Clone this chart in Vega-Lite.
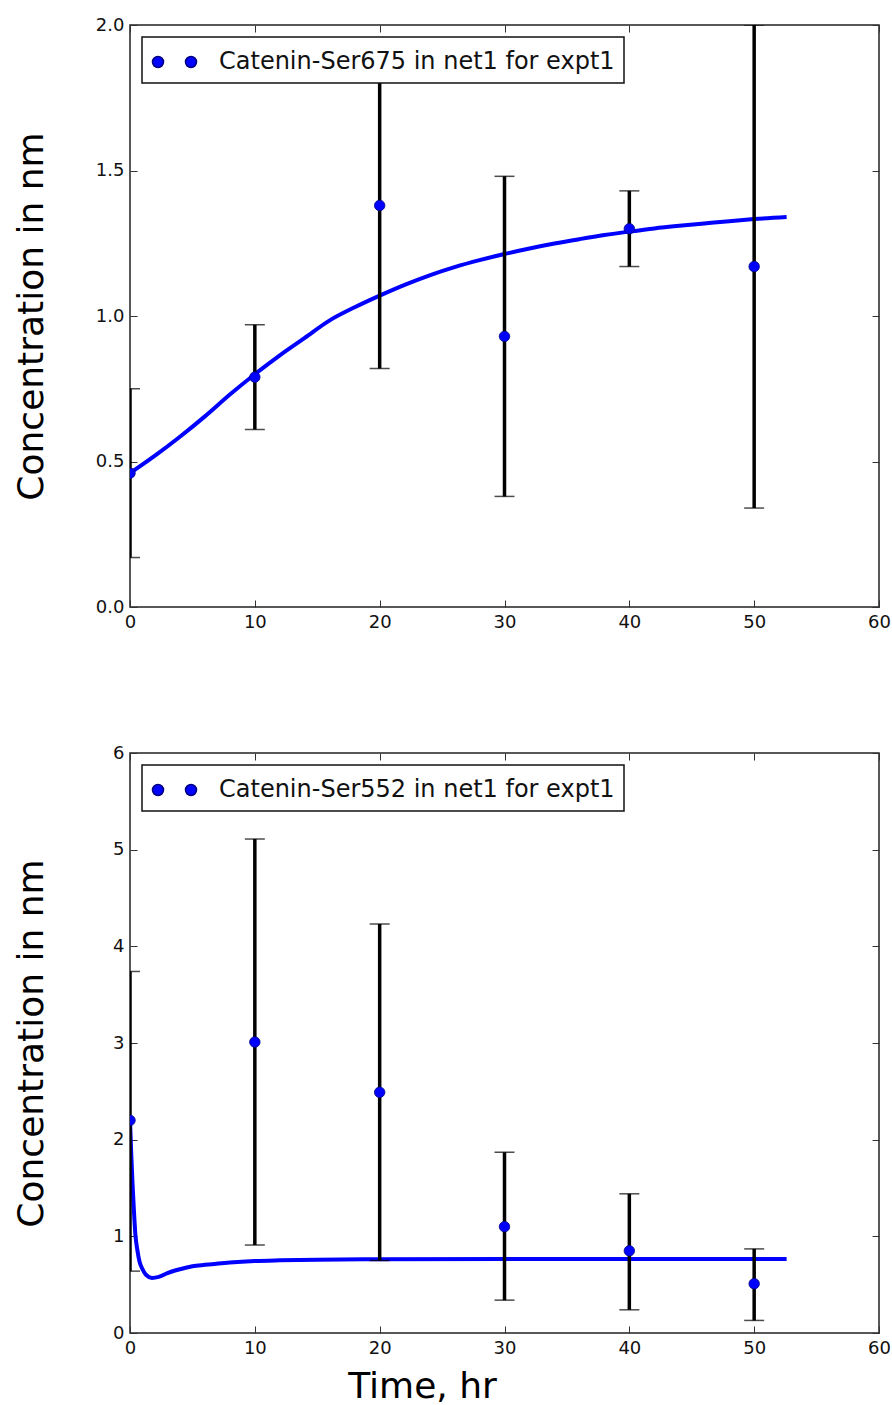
{
  "$schema": "https://vega.github.io/schema/vega-lite/v6.json",
  "background": "white",
  "padding": {"left": 12, "top": 15, "right": 10, "bottom": 5},
  "spacing": 111,
  "config": {
    "font": "DejaVu Sans",
    "view": {"stroke": "#222222", "strokeWidth": 1.5},
    "axis": {
      "domain": false,
      "grid": false,
      "ticks": true,
      "tickSize": -7,
      "tickColor": "#333333",
      "tickWidth": 1,
      "labelFlush": false,
      "labelOverlap": false,
      "labelFont": "DejaVu Sans",
      "labelFontSize": 18,
      "labelColor": "#111111",
      "labelPadding": 13,
      "titleFont": "DejaVu Sans",
      "titleFontSize": 36,
      "titleFontWeight": "normal",
      "titleColor": "#000000"
    },
    "legend": {
      "orient": "top-left",
      "offset": 12,
      "fillColor": "white",
      "strokeColor": "#111111",
      "strokeWidth": 1.5,
      "padding": 9,
      "labelFont": "DejaVu Sans",
      "labelFontSize": 24,
      "labelColor": "#111111",
      "labelOffset": 36,
      "labelLimit": 0,
      "title": null
    }
  },
  "datasets": {
    "obs1": [
      {"t": 0, "y": 0.46, "lo": 0.17, "hi": 0.75, "series": "Catenin-Ser675 in net1 for expt1"},
      {"t": 10, "y": 0.79, "lo": 0.61, "hi": 0.97, "series": "Catenin-Ser675 in net1 for expt1"},
      {"t": 20, "y": 1.38, "lo": 0.82, "hi": 1.94, "series": "Catenin-Ser675 in net1 for expt1"},
      {"t": 30, "y": 0.93, "lo": 0.38, "hi": 1.48, "series": "Catenin-Ser675 in net1 for expt1"},
      {"t": 40, "y": 1.30, "lo": 1.17, "hi": 1.43, "series": "Catenin-Ser675 in net1 for expt1"},
      {"t": 50, "y": 1.17, "lo": 0.34, "hi": 2.0, "series": "Catenin-Ser675 in net1 for expt1"}
    ],
    "fit1": [
      {"t": 0, "y": 0.46}, {"t": 2, "y": 0.52}, {"t": 4, "y": 0.585}, {"t": 6, "y": 0.655},
      {"t": 8, "y": 0.73}, {"t": 10, "y": 0.80}, {"t": 12, "y": 0.865}, {"t": 14, "y": 0.925},
      {"t": 16, "y": 0.985}, {"t": 18, "y": 1.03}, {"t": 20, "y": 1.07}, {"t": 22, "y": 1.107},
      {"t": 24, "y": 1.14}, {"t": 26, "y": 1.168}, {"t": 28, "y": 1.192}, {"t": 30, "y": 1.213},
      {"t": 32, "y": 1.232}, {"t": 34, "y": 1.249}, {"t": 36, "y": 1.264}, {"t": 38, "y": 1.278},
      {"t": 40, "y": 1.29}, {"t": 42, "y": 1.301}, {"t": 44, "y": 1.31}, {"t": 46, "y": 1.318},
      {"t": 48, "y": 1.326}, {"t": 50, "y": 1.333}, {"t": 52.6, "y": 1.34}
    ],
    "obs2": [
      {"t": 0, "y": 2.2, "lo": 0.64, "hi": 3.74, "series": "Catenin-Ser552 in net1 for expt1"},
      {"t": 10, "y": 3.01, "lo": 0.91, "hi": 5.11, "series": "Catenin-Ser552 in net1 for expt1"},
      {"t": 20, "y": 2.49, "lo": 0.75, "hi": 4.23, "series": "Catenin-Ser552 in net1 for expt1"},
      {"t": 30, "y": 1.1, "lo": 0.34, "hi": 1.87, "series": "Catenin-Ser552 in net1 for expt1"},
      {"t": 40, "y": 0.85, "lo": 0.24, "hi": 1.44, "series": "Catenin-Ser552 in net1 for expt1"},
      {"t": 50, "y": 0.51, "lo": 0.13, "hi": 0.87, "series": "Catenin-Ser552 in net1 for expt1"}
    ],
    "fit2": [
      {"t": 0, "y": 2.2}, {"t": 0.1, "y": 1.85}, {"t": 0.2, "y": 1.55}, {"t": 0.3, "y": 1.3},
      {"t": 0.43, "y": 1.02}, {"t": 0.6, "y": 0.85}, {"t": 0.75, "y": 0.745}, {"t": 1.0, "y": 0.66},
      {"t": 1.3, "y": 0.6}, {"t": 1.76, "y": 0.57}, {"t": 2.3, "y": 0.58}, {"t": 3, "y": 0.62},
      {"t": 4, "y": 0.66}, {"t": 5, "y": 0.69}, {"t": 6, "y": 0.705}, {"t": 8, "y": 0.73},
      {"t": 10, "y": 0.745}, {"t": 12, "y": 0.752}, {"t": 15, "y": 0.758}, {"t": 20, "y": 0.763},
      {"t": 30, "y": 0.765}, {"t": 40, "y": 0.765}, {"t": 52.6, "y": 0.765}
    ]
  },
  "vconcat": [
    {
      "width": 749,
      "height": 582,
      "resolve": {"axis": {"x": "independent", "y": "independent"}},
      "layer": [
        {
          "data": {"name": "fit1"},
          "mark": {"type": "line", "color": "#0000ff", "strokeWidth": 4, "clip": true, "interpolate": "monotone"},
          "encoding": {
            "x": {"field": "t", "type": "quantitative", "scale": {"domain": [0, 60], "nice": false},
              "axis": {"orient": "bottom", "values": [0, 10, 20, 30, 40, 50, 60], "title": null}},
            "y": {"field": "y", "type": "quantitative", "scale": {"domain": [0, 2], "nice": false, "zero": false},
              "axis": {"orient": "left", "values": [0, 0.5, 1, 1.5, 2], "format": ".1f", "title": "Concentration in nm", "titlePadding": 45}}
          }
        },
        {
          "data": {"name": "obs1"},
          "mark": {"type": "rule", "color": "#000000", "strokeWidth": 3.5, "clip": true},
          "encoding": {
            "x": {"field": "t", "type": "quantitative",
              "axis": {"orient": "top", "values": [0, 10, 20, 30, 40, 50, 60], "labels": false, "title": null}},
            "y": {"field": "lo", "type": "quantitative",
              "axis": {"orient": "right", "values": [0, 0.5, 1, 1.5, 2], "labels": false, "title": null}},
            "y2": {"field": "hi"}
          }
        },
        {
          "data": {"name": "obs1"},
          "mark": {"type": "tick", "orient": "horizontal", "color": "#000000", "size": 20, "thickness": 1.5, "clip": true},
          "encoding": {
            "x": {"field": "t", "type": "quantitative", "axis": null},
            "y": {"field": "lo", "type": "quantitative", "axis": null}
          }
        },
        {
          "data": {"name": "obs1"},
          "mark": {"type": "tick", "orient": "horizontal", "color": "#000000", "size": 20, "thickness": 1.5, "clip": true},
          "encoding": {
            "x": {"field": "t", "type": "quantitative", "axis": null},
            "y": {"field": "hi", "type": "quantitative", "axis": null}
          }
        },
        {
          "data": {"name": "obs1"},
          "mark": {"type": "point", "filled": true, "size": 110, "opacity": 1, "stroke": "#000080", "strokeWidth": 0.8, "clip": true},
          "encoding": {
            "x": {"field": "t", "type": "quantitative", "axis": null},
            "y": {"field": "y", "type": "quantitative", "axis": null},
            "color": {"field": "series", "type": "nominal", "scale": {"range": ["#0000ff"]},
              "legend": {
                "symbolType": "M -0.967 0 A 0.367 0.367 0 1 0 -0.233 0 A 0.367 0.367 0 1 0 -0.967 0 Z M 1.233 0 A 0.367 0.367 0 1 0 1.967 0 A 0.367 0.367 0 1 0 1.233 0 Z",
                "symbolSize": 900,
                "encode": {"symbols": {"update": {"size": {"value": 900}, "strokeWidth": {"value": 0}, "fill": {"value": "#0000ff"}, "opacity": {"value": 1}}}}
              }}
          }
        }
      ]
    },
    {
      "width": 749,
      "height": 580,
      "resolve": {"axis": {"x": "independent", "y": "independent"}},
      "layer": [
        {
          "data": {"name": "fit2"},
          "mark": {"type": "line", "color": "#0000ff", "strokeWidth": 4, "clip": true, "interpolate": "monotone"},
          "encoding": {
            "x": {"field": "t", "type": "quantitative", "scale": {"domain": [0, 60], "nice": false},
              "axis": {"orient": "bottom", "values": [0, 10, 20, 30, 40, 50, 60], "title": "Time, hr", "titlePadding": 12, "titleX": 292}},
            "y": {"field": "y", "type": "quantitative", "scale": {"domain": [0, 6], "nice": false, "zero": false},
              "axis": {"orient": "left", "values": [0, 1, 2, 3, 4, 5, 6], "format": "d", "title": "Concentration in nm", "titlePadding": 62}}
          }
        },
        {
          "data": {"name": "obs2"},
          "mark": {"type": "rule", "color": "#000000", "strokeWidth": 3.5, "clip": true},
          "encoding": {
            "x": {"field": "t", "type": "quantitative",
              "axis": {"orient": "top", "values": [0, 10, 20, 30, 40, 50, 60], "labels": false, "title": null}},
            "y": {"field": "lo", "type": "quantitative",
              "axis": {"orient": "right", "values": [0, 1, 2, 3, 4, 5, 6], "labels": false, "title": null}},
            "y2": {"field": "hi"}
          }
        },
        {
          "data": {"name": "obs2"},
          "mark": {"type": "tick", "orient": "horizontal", "color": "#000000", "size": 20, "thickness": 1.5, "clip": true},
          "encoding": {
            "x": {"field": "t", "type": "quantitative", "axis": null},
            "y": {"field": "lo", "type": "quantitative", "axis": null}
          }
        },
        {
          "data": {"name": "obs2"},
          "mark": {"type": "tick", "orient": "horizontal", "color": "#000000", "size": 20, "thickness": 1.5, "clip": true},
          "encoding": {
            "x": {"field": "t", "type": "quantitative", "axis": null},
            "y": {"field": "hi", "type": "quantitative", "axis": null}
          }
        },
        {
          "data": {"name": "obs2"},
          "mark": {"type": "point", "filled": true, "size": 110, "opacity": 1, "stroke": "#000080", "strokeWidth": 0.8, "clip": true},
          "encoding": {
            "x": {"field": "t", "type": "quantitative", "axis": null},
            "y": {"field": "y", "type": "quantitative", "axis": null},
            "color": {"field": "series", "type": "nominal", "scale": {"range": ["#0000ff"]},
              "legend": {
                "symbolType": "M -0.967 0 A 0.367 0.367 0 1 0 -0.233 0 A 0.367 0.367 0 1 0 -0.967 0 Z M 1.233 0 A 0.367 0.367 0 1 0 1.967 0 A 0.367 0.367 0 1 0 1.233 0 Z",
                "symbolSize": 900,
                "encode": {"symbols": {"update": {"size": {"value": 900}, "strokeWidth": {"value": 0}, "fill": {"value": "#0000ff"}, "opacity": {"value": 1}}}}
              }}
          }
        }
      ]
    }
  ],
  "resolve": {"scale": {"color": "independent"}, "legend": {"color": "independent"}}
}
